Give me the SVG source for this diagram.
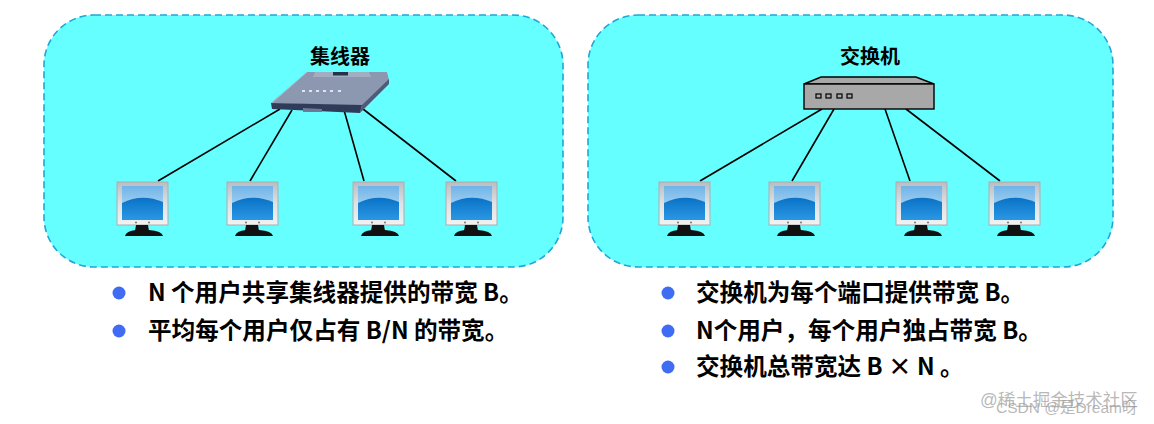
<svg xmlns="http://www.w3.org/2000/svg" width="1154" height="424" viewBox="0 0 1154 424">
<style>
.panel{fill:#66ffff;stroke:#22a6d8;stroke-width:1.6;stroke-dasharray:7 4}
.t{font-family:"Noto Sans CJK SC","Noto Sans",sans-serif;font-weight:700;fill:#000}
.b{font-size:23.600px}
.lab{font-size:20px;text-anchor:middle}
.dot{fill:#3f6cf2}
.c line{stroke:#000;stroke-width:1.6}
.wm{font-family:"Liberation Sans","Noto Sans CJK SC",sans-serif;fill:#999;fill-opacity:.7}
.sw{fill:#a8a8a8;stroke:#000;stroke-width:1.4}
</style>
<defs>
<linearGradient id="bez" x1="0" y1="0" x2="0" y2="1"><stop offset="0" stop-color="#b9bdc2"/><stop offset=".5" stop-color="#dfe1e3"/><stop offset="1" stop-color="#f2f2f2"/></linearGradient>
<linearGradient id="scr" x1="0" y1="0" x2="0" y2="1"><stop offset="0" stop-color="#6fb4e8"/><stop offset="1" stop-color="#c9e4f8"/></linearGradient>
<linearGradient id="low" x1="0" y1="0" x2="0" y2="1"><stop offset="0" stop-color="#0a72c6"/><stop offset="1" stop-color="#2a97e4"/></linearGradient>
<g id="pc">
<rect x="1" y="1" width="51" height="43" fill="url(#bez)" stroke="#a9adb2" stroke-width="1"/>
<rect x="6" y="5" width="41" height="34" fill="url(#scr)"/>
<path d="M6 22Q26 12 47 21V39H6Z" fill="url(#low)"/>
<circle cx="20" cy="41.500" r="1" fill="#777"/><circle cx="33" cy="41.500" r="1" fill="#777"/>
<path d="M20 44H32L33 50H19Z" fill="#111"/>
<path d="M9 55Q10 50 20 49H33Q46 50 47 55Z" fill="#111"/>
</g>
</defs>
<rect width="1154" height="424" fill="#fff"/>
<rect class="panel" x="44" y="15" width="519" height="252" rx="50"/>
<rect class="panel" x="588" y="15" width="525" height="252" rx="50"/>
<g class="c" id="connectors">
<line x1="158" y1="181" x2="280" y2="109"/>
<line x1="250" y1="181" x2="292" y2="110"/>
<line x1="364" y1="181" x2="344" y2="110"/>
<line x1="456" y1="181" x2="363" y2="109"/>
<line x1="700" y1="181" x2="822" y2="109"/>
<line x1="792" y1="181" x2="834" y2="109"/>
<line x1="910" y1="181" x2="885" y2="109"/>
<line x1="1000" y1="181" x2="906" y2="109"/>
</g>
<g id="hub">
<text class="t lab" x="340" y="64">集线器</text>
<path d="M307 72H387L389 80L362 106L271 103Z" fill="#8c97b0"/>
<path d="M362 105L389 79V84L360 113Z" fill="#4f5b78"/>
<path d="M271 103L362 105L360 113L272 109Z" fill="#2f3b58"/>
<path d="M303 108L322 109V112H303Z" fill="#6d7a96"/>
<path d="M315 72H369L371 77H313Z" fill="#a3adc2"/>
<rect x="333" y="72" width="15" height="3.500" fill="#26324c"/>
<g fill="#dfe4ee"><rect x="302" y="90" width="3" height="2"/><rect x="309" y="90" width="3" height="2"/><rect x="316" y="90" width="3" height="2"/><rect x="323" y="90" width="3" height="2"/><rect x="330" y="90" width="3" height="2"/><rect x="338" y="90" width="3" height="2"/></g>
<path d="M272 103L307 72" stroke="#b5bdcf" stroke-width=".8" fill="none"/>
</g>
<use href="#pc" id="pc1" x="116" y="181"/>
<use href="#pc" id="pc2" x="226" y="181"/>
<use href="#pc" id="pc3" x="352" y="181"/>
<use href="#pc" id="pc4" x="445" y="181"/>
<g id="switch">
<text class="t lab" x="870" y="64">交换机</text>
<path class="sw" d="M804 84L821 77H916L934 84Z"/>
<rect class="sw" x="804" y="84" width="130" height="25"/>
<g fill="none" stroke="#000" stroke-width="1.2"><rect x="816" y="94" width="5" height="4"/><rect x="826" y="94" width="5" height="4"/><rect x="837" y="94" width="5" height="4"/><rect x="847" y="94" width="5" height="4"/></g>
</g>
<use href="#pc" id="pc5" x="658" y="181"/>
<use href="#pc" id="pc6" x="768" y="181"/>
<use href="#pc" id="pc7" x="895" y="181"/>
<use href="#pc" id="pc8" x="988" y="181"/>
<g id="list-left">
<circle class="dot" cx="119" cy="293" r="6.500"/>
<text class="t b" x="148" y="301">N 个用户共享集线器提供的带宽 B。</text>
<circle class="dot" cx="119" cy="331" r="6.500"/>
<text class="t b" x="148" y="339">平均每个用户仅占有 B/N 的带宽。</text>
</g>
<g id="list-right">
<circle class="dot" cx="668" cy="293" r="6.500"/>
<text class="t b" x="696" y="301">交换机为每个端口提供带宽 B。</text>
<circle class="dot" cx="668" cy="331" r="6.500"/>
<text class="t b" x="696" y="339">N个用户，每个用户独占带宽 B。</text>
<circle class="dot" cx="668" cy="367" r="6.500"/>
<text class="t b" x="696" y="375">交换机总带宽达 B × N 。</text>
</g>
<text class="wm" x="980" y="406" font-size="17.500">@稀土掘金技术社区</text>
<text class="wm" x="996" y="413" font-size="15.500">CSDN @是Dream呀</text>
</svg>
